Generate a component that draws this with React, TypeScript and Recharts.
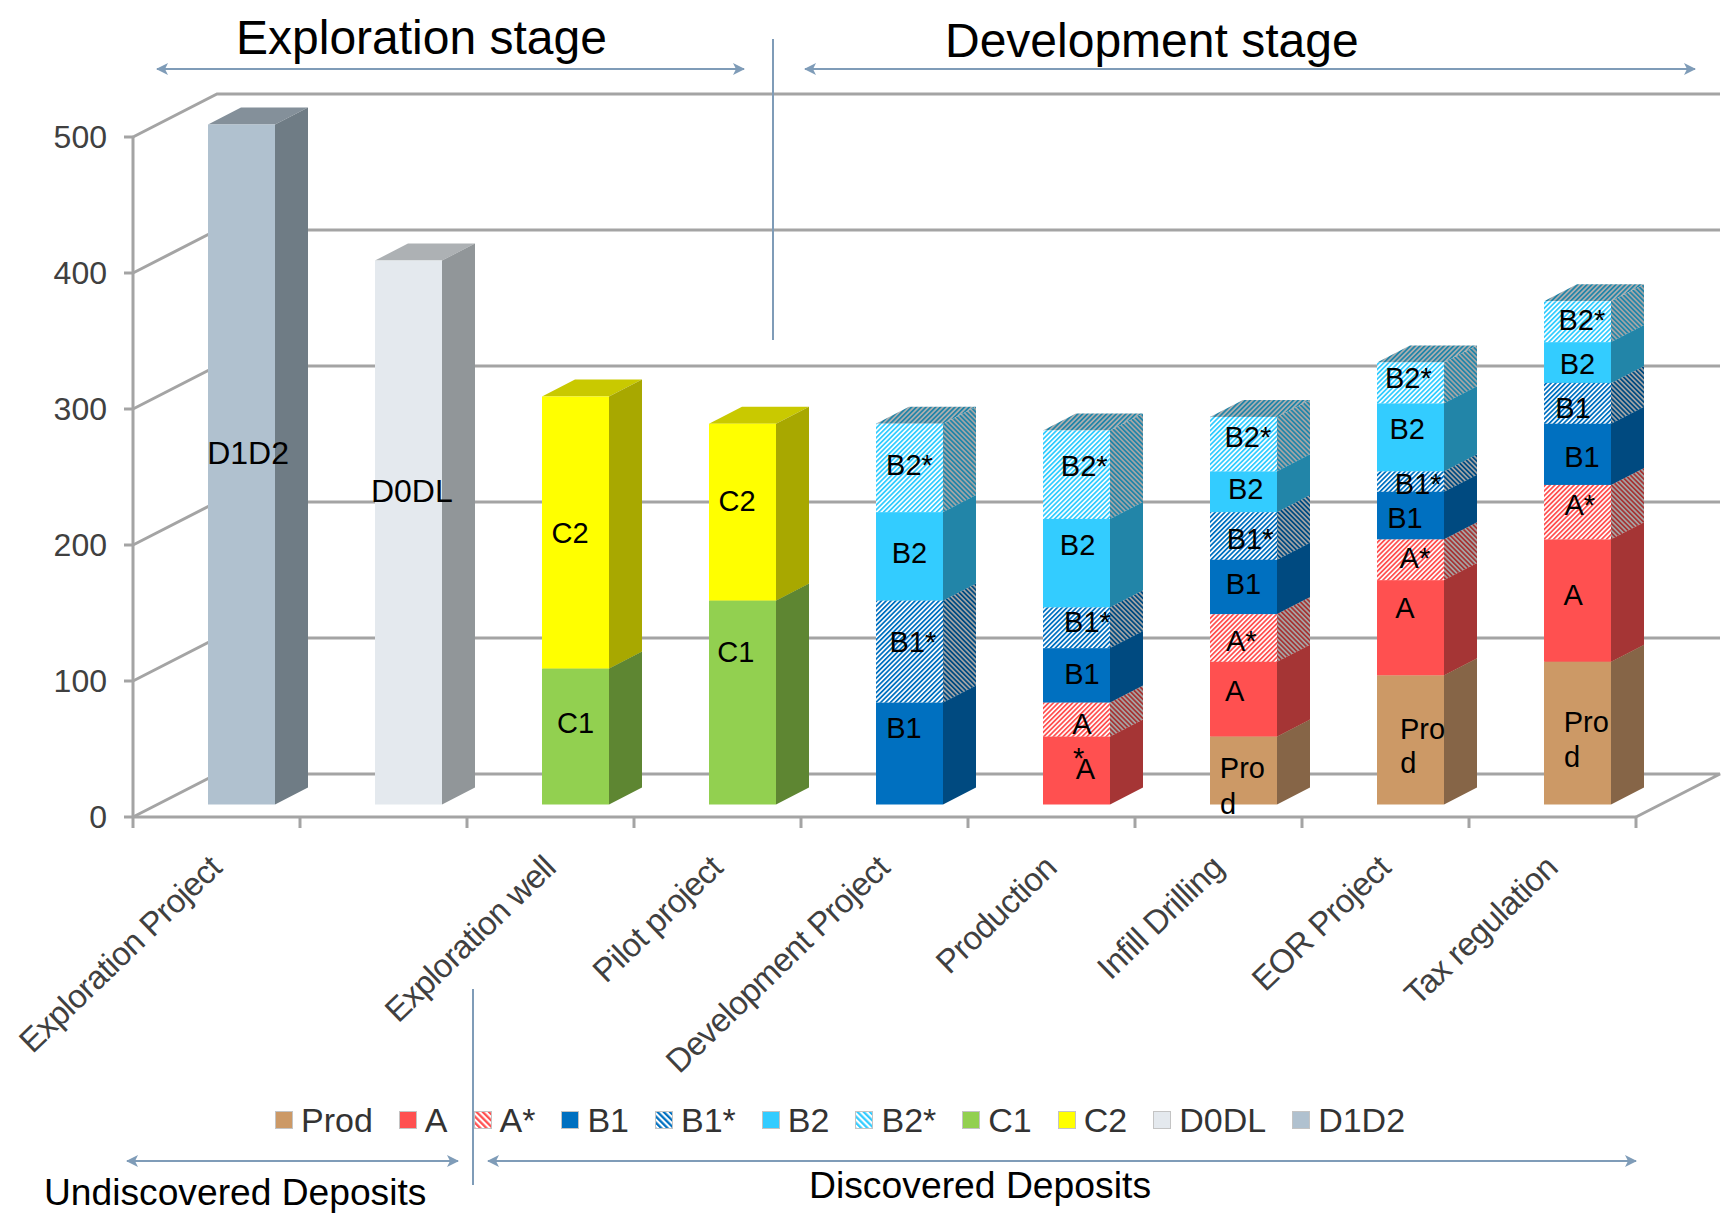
import React from 'react';
import { BarChart, Bar, XAxis, YAxis, CartesianGrid, Legend } from 'recharts';

// ---- chart values, bottom of the stack first ----
const categories = [
  'Exploration Project', '', 'Exploration well', 'Pilot project', 'Development Project',
  'Production', 'Infill Drilling', 'EOR Project', 'Tax regulation',
];
const prod = [0, 0, 0, 0, 0, 0, 50, 95, 105];
const a = [0, 0, 0, 0, 0, 50, 55, 70, 90];
const aStar = [0, 0, 0, 0, 0, 25, 35, 30, 40];
const b1 = [0, 0, 0, 0, 75, 40, 40, 35, 45];
const b1Star = [0, 0, 0, 0, 75, 30, 35, 15, 30];
const b2 = [0, 0, 0, 0, 65, 65, 30, 50, 30];
const b2Star = [0, 0, 0, 0, 65, 65, 40, 30, 30];
const c1 = [0, 0, 100, 150, 0, 0, 0, 0, 0];
const c2 = [0, 0, 200, 130, 0, 0, 0, 0, 0];
const d0dl = [0, 400, 0, 0, 0, 0, 0, 0, 0];
const d1d2 = [500, 0, 0, 0, 0, 0, 0, 0, 0];
const yTicks = [0, 100, 200, 300, 400, 500];

const seriesNames = ['Prod', 'A', 'A*', 'B1', 'B1*', 'B2', 'B2*', 'C1', 'C2', 'D0DL', 'D1D2'];
const seriesValues = [prod, a, aStar, b1, b1Star, b2, b2Star, c1, c2, d0dl, d1d2];

const rows = categories.map((category, i) => {
  const row: Record<string, string | number> = { category };
  seriesNames.forEach((name, s) => {
    row[name] = seriesValues[s][i];
  });
  return row;
});

// ---- layout ----
const WIDTH = 1729;
const HEIGHT = 1218;
const PLOT_LEFT = 133;
const PLOT_RIGHT = 1636;
const PLOT_TOP = 137;
const PLOT_BOTTOM = 817;
const HALF_BAND = (PLOT_RIGHT - PLOT_LEFT) / categories.length / 2;
const FLOOR_DX = 84;
const FLOOR_DY = 43;
const BAR_SHIFT_X = 25;
const BAR_SHIFT_Y = 12.5;
const BAR_DX = 33;
const BAR_DY = 17;
const FONT = '"Liberation Sans", Arial, sans-serif';
const AXIS_GREY = '#a4a4a4';
const AXIS_WIDTH = 3;
const NOTE_BLUE = '#7f9cb8';

// ---- colours of the three visible faces of a block ----
type Faces = { front: string; side: string; top: string };
const hatch = (id: string) => ({
  front: `url(#${id}-front)`,
  side: `url(#${id}-side)`,
  top: `url(#${id}-top)`,
});
const faces: Record<string, Faces> = {
  Prod: { front: '#cc9966', side: '#866547', top: '#a98054' },
  A: { front: '#ff5050', side: '#a53535', top: '#c94040' },
  'A*': hatch('hatch-a'),
  B1: { front: '#0070c0', side: '#004a80', top: '#005a9c' },
  'B1*': hatch('hatch-b1'),
  B2: { front: '#33ccff', side: '#2285a8', top: '#2aa5cf' },
  'B2*': hatch('hatch-b2'),
  C1: { front: '#92d050', side: '#5e8632', top: '#76a840' },
  C2: { front: '#ffff00', side: '#a8a800', top: '#c9c900' },
  D0DL: { front: '#e4e9ee', side: '#919699', top: '#adb1b4' },
  D1D2: { front: '#b0c1cf', side: '#6f7c85', top: '#84909a' },
};
const hatchInks = [
  { id: 'hatch-a', front: '#ff5050', side: '#a53535', top: '#c94040' },
  { id: 'hatch-b1', front: '#0070c0', side: '#004a80', top: '#005a9c' },
  { id: 'hatch-b2', front: '#33ccff', side: '#2285a8', top: '#2285a8' },
];

// ---- hand placement of the labels inside the blocks, relative to each block's centre ----
const LABEL_UNIT = 1.1;
const LABEL_LIFT = 1.5;
const labelNudges: Record<string, ([number, number] | null)[]> = {
  D1D2: [[6, -9]],
  D0DL: [null, [3, -36]],
  C1: [null, null, [0, -11], [-6, -45]],
  C2: [null, null, [-5, 2], [-5, -9]],
  B1: [null, null, null, null, [-5, -22], [5, 0], [0, -1], [-5, 4], [4, 4]],
  'B1*': [null, null, null, null, [3, -7], [10, -4], [6, 4], [7, 4], [-4, 6]],
  B2: [null, null, null, null, [0, -2], [1, -15], [2, -1], [-3, -6], [0, 3]],
  'B2*': [null, null, null, null, [0, -1], [7, -7], [4, -5], [-2, -3], [4, 0]],
  A: [null, null, null, null, null, [8, 0], [-8, -6], [-5, -17], [-4, -4]],
  'A*': [null, null, null, null, null, null, [-2, 4], [4, 0], [2, -5]],
};
// Labels that wrap or lose characters in their narrow block: [text, dx, dy] per line.
const wrappedLabels: Record<string, [string, number, number][]> = {
  'A*:5': [['A', 5, 5], ['*', 2, 36]],
  'Prod:6': [['Pro', -1, -1], ['d', -14, 32]],
  'Prod:7': [['Pro', 11, -9], ['d', -2, 22]],
  'Prod:8': [['Pro', 8, -9], ['d', -5, 23]],
  'B1*:8': [['B1', -4, 6]],
};
const largeLabels = ['D1D2', 'D0DL'];

function blockLabelLines(name: string, index: number): [string, number, number][] {
  const wrapped = wrappedLabels[`${name}:${index}`];
  if (wrapped) return wrapped;
  const nudge = labelNudges[name]?.[index];
  return nudge ? [[name, nudge[0], nudge[1]]] : [];
}

// One stacked segment drawn as a cuboid standing slightly behind the front floor edge.
function Block(props: any) {
  const { x, y, width, height, index, seriesName } = props;
  if (!height || height <= 0) return null;
  const left = x + BAR_SHIFT_X;
  const right = left + width;
  const top = y - BAR_SHIFT_Y;
  const bottom = top + height;
  const f = faces[seriesName];
  const lines = blockLabelLines(seriesName, index);
  return (
    <g>
      <polygon
        points={`${left},${top} ${left + BAR_DX},${top - BAR_DY} ${right + BAR_DX},${top - BAR_DY} ${right},${top}`}
        fill={f.top}
      />
      <polygon
        points={`${right},${top} ${right + BAR_DX},${top - BAR_DY} ${right + BAR_DX},${bottom - BAR_DY} ${right},${bottom}`}
        fill={f.side}
      />
      <rect x={left} y={top} width={width} height={height} fill={f.front} />
      {lines.map(([text, dx, dy], i) => (
        <text
          key={i}
          x={left + width / 2 + dx * LABEL_UNIT}
          y={top + height / 2 + dy * LABEL_UNIT - LABEL_LIFT}
          textAnchor="middle"
          dominantBaseline="central"
          fontFamily={FONT}
          fontSize={largeLabels.includes(seriesName) ? 32 : 29}
          fill="#000"
        >
          {text}
        </text>
      ))}
    </g>
  );
}

// Horizontal wall line: a slanted run along the side wall, then across the back wall.
function WallLine(props: any) {
  const { x1, x2, y1, y, height, key } = props;
  const isFloor = Math.abs(y1 - (y + height)) < 1;
  const style = { stroke: AXIS_GREY, strokeWidth: AXIS_WIDTH, fill: 'none' };
  return (
    <g key={key}>
      <polyline
        points={`${x1},${y1} ${x1 + FLOOR_DX},${y1 - FLOOR_DY} ${x2 + FLOOR_DX},${y1 - FLOOR_DY}${isFloor ? ` ${x2},${y1}` : ''}`}
        {...style}
      />
    </g>
  );
}

// Category tick: the mark sits on the band boundary, the label is slanted up to the right.
function CategoryTick(props: any) {
  const { x, y, payload, index } = props;
  const mark = (at: number) => (
    <line x1={at} x2={at} y1={y} y2={y + 11} stroke={AXIS_GREY} strokeWidth={AXIS_WIDTH} />
  );
  return (
    <g>
      {mark(x - HALF_BAND)}
      {index === categories.length - 1 && mark(x + HALF_BAND)}
      {payload.value ? (
        <text
          transform={`translate(${x + 7},${y + 53}) rotate(-44)`}
          textAnchor="end"
          fontFamily={FONT}
          fontSize={33}
          letterSpacing={-0.6}
          fill="#404040"
        >
          {payload.value}
        </text>
      ) : null}
    </g>
  );
}

function Swatches({ payload }: any) {
  const ordered = [...(payload ?? [])].sort(
    (p: any, q: any) => seriesNames.indexOf(p.value) - seriesNames.indexOf(q.value),
  );
  return (
    <div
      style={{
        display: 'flex',
        alignItems: 'center',
        paddingLeft: 275,
        fontFamily: FONT,
        fontSize: 34,
        lineHeight: '40px',
        color: '#333',
        whiteSpace: 'nowrap',
      }}
    >
      {ordered.map((entry: any) => (
        <span key={entry.value} style={{ display: 'flex', alignItems: 'center', marginRight: 26 }}>
          <svg width={18} height={18} style={{ marginRight: 8 }}>
            <rect
              x={0.5}
              y={0.5}
              width={17}
              height={17}
              fill={String(entry.color).replace('-front', '-legend')}
              stroke="#c4c4c4"
            />
          </svg>
          {entry.value}
        </span>
      ))}
    </div>
  );
}

// Stage and deposit brackets around the chart.
function Annotations() {
  const text = (label: string, x: number, y: number, size: number) => (
    <text x={x} y={y} fontFamily={FONT} fontSize={size} fill="#000">
      {label}
    </text>
  );
  const arrow = (x1: number, x2: number, y: number) => (
    <line
      x1={x1}
      x2={x2}
      y1={y}
      y2={y}
      stroke={NOTE_BLUE}
      strokeWidth={2}
      markerStart="url(#note-arrow)"
      markerEnd="url(#note-arrow)"
    />
  );
  const divider = (x: number, y1: number, y2: number) => (
    <line x1={x} x2={x} y1={y1} y2={y2} stroke={NOTE_BLUE} strokeWidth={2} />
  );
  return (
    <svg
      width={WIDTH}
      height={HEIGHT}
      style={{ position: 'absolute', left: 0, top: 0, pointerEvents: 'none' }}
    >
      <defs>
        <marker
          id="note-arrow"
          markerUnits="userSpaceOnUse"
          markerWidth={13}
          markerHeight={12}
          refX={11}
          refY={6}
          orient="auto-start-reverse"
        >
          <path d="M0,0 L12,6 L0,12 L3,6 z" fill={NOTE_BLUE} />
        </marker>
      </defs>
      {text('Exploration stage', 236, 54, 48)}
      {text('Development stage', 945, 57, 48)}
      {arrow(157, 744, 69)}
      {arrow(805, 1695, 69)}
      {divider(773, 39, 340)}
      {divider(473, 989, 1185)}
      {arrow(127, 458, 1161)}
      {arrow(488, 1636, 1161)}
      {text('Undiscovered Deposits', 44, 1205, 37.2)}
      {text('Discovered Deposits', 809, 1198, 37.3)}
    </svg>
  );
}

// Fine diagonal hatching shared by the starred reserve classes.
function HatchDefs() {
  const stripe = (id: string, ink: string, paper: string, angle: number, period = 3.4) => (
    <pattern
      key={id}
      id={id}
      patternUnits="userSpaceOnUse"
      width={period}
      height={period}
      patternTransform={`rotate(${angle})`}
    >
      <rect width={period} height={period} fill={paper} />
      <rect width={period * 0.52} height={period} fill={ink} />
    </pattern>
  );
  return (
    <svg width={0} height={0} style={{ position: 'absolute' }}>
      <defs>
        {hatchInks.map((h) => (
          <React.Fragment key={h.id}>
            {stripe(`${h.id}-front`, h.front, '#ffffff', 45)}
            {stripe(`${h.id}-side`, h.side, '#a6a6a6', -45)}
            {stripe(`${h.id}-top`, h.top, '#b0b0b0', 45)}
            {stripe(`${h.id}-legend`, h.front, '#ffffff', -45, 4.4)}
          </React.Fragment>
        ))}
      </defs>
    </svg>
  );
}

export default function App() {
  return (
    <div style={{ position: 'absolute', left: 0, top: 0, width: WIDTH, height: HEIGHT, background: '#fff' }}>
      <HatchDefs />
      <BarChart
        width={WIDTH}
        height={HEIGHT}
        data={rows}
        barSize={67}
        margin={{ top: PLOT_TOP, left: PLOT_LEFT - 100, right: WIDTH - PLOT_RIGHT, bottom: HEIGHT - PLOT_BOTTOM - 200 }}
      >
        <CartesianGrid vertical={false} horizontal={(p: any) => <WallLine {...p} />} />
        <XAxis
          dataKey="category"
          height={200}
          interval={0}
          tickLine={false}
          tickSize={0}
          tickMargin={0}
          axisLine={{ stroke: AXIS_GREY, strokeWidth: AXIS_WIDTH }}
          tick={(p: any) => <CategoryTick {...p} />}
        />
        <YAxis
          width={100}
          domain={[0, 500]}
          ticks={yTicks}
          interval={0}
          tickSize={9}
          tickMargin={17}
          tickLine={{ stroke: AXIS_GREY, strokeWidth: AXIS_WIDTH }}
          axisLine={{ stroke: AXIS_GREY, strokeWidth: AXIS_WIDTH }}
          tick={{ fontFamily: FONT, fontSize: 32, fill: '#404040' }}
        />
        <Legend
          layout="horizontal"
          verticalAlign="middle"
          content={(p: any) => <Swatches {...p} />}
          wrapperStyle={{ left: 0, top: 1100, width: WIDTH }}
        />
        {seriesNames.map((name) => (
          <Bar
            key={name}
            dataKey={name}
            name={name}
            stackId="reserves"
            fill={faces[name].front}
            isAnimationActive={false}
            shape={(p: any) => <Block {...p} seriesName={name} />}
          />
        ))}
      </BarChart>
      <Annotations />
    </div>
  );
}
